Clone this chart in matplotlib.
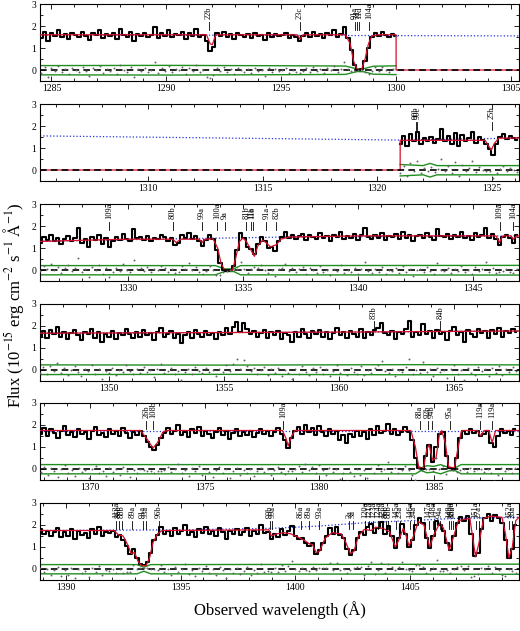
import numpy as np
import matplotlib.pyplot as plt
from matplotlib.ticker import MultipleLocator

plt.rcParams['font.family'] = ['Liberation Serif', 'DejaVu Serif']
plt.rcParams['mathtext.fontset'] = 'stix'

# --- wavelength window of each row (Angstrom) ---
xlims = [(1284.5, 1305.35), (1305.3, 1326.18), (1326.18, 1347.0),
         (1347.0, 1367.82), (1367.82, 1388.72), (1388.88, 1409.74)]

STEP = 0.15  # pixel step of the typed flux values

# --- observed flux (1e-15 erg/cm2/s/A), first pixel wavelength ---
flux1_start = 1284.55
flux1 = [1.45, 1.75, 1.3, 1.7, 1.55, 1.8, 1.5, 1.65, 1.4, 1.7,
         1.6, 1.5, 1.75, 1.55, 1.35, 1.7, 1.6, 1.8, 1.45, 1.65,
         1.55, 1.7, 1.4, 1.85, 1.6, 1.5, 1.75, 1.3, 1.65, 1.55,
         1.7, 1.5, 1.6, 1.95, 1.45, 1.7, 1.55, 1.8, 1.5, 1.65,
         1.6, 1.75, 1.4, 1.7, 1.55, 1.85, 1.5, 1.6, 1.3, 0.85,
         1.05, 1.7, 1.55, 1.75, 1.5, 1.65, 1.4, 1.7, 1.6, 1.5,
         1.65, 1.45, 1.7, 1.55, 1.6, 1.35, 1.7, 1.5, 1.65, 1.55,
         1.6, 1.7, 1.45, 1.6, 1.5, 1.3, 1.55, 1.7, 1.5, 1.75,
         1.55, 1.65, 1.45, 1.7, 1.6, 1.8, 1.5, 1.65, 1.95, 1.45,
         0.9, 0.25, 0.02, 0.05, 0.4, 1.0, 1.5, 1.7, 1.55, 1.75,
         1.6, 1.5, 1.65, 1.55]

flux2_start = 1321.0
flux2 = [1.2, 1.55, 1.1, 1.65, 1.3, 1.75, 1.2, 1.45, 1.3, 1.5,
         1.25, 1.4, 1.85, 1.3, 1.55, 1.2, 1.7, 1.1, 1.6, 1.3,
         1.45, 1.75, 1.25, 1.5, 1.35, 1.2, 0.95, 0.7, 1.2, 1.5,
         1.65, 1.4, 1.55, 1.45, 1.35]

flux3_start = 1326.2
flux3 = [1.25, 1.5, 1.35, 1.6, 1.3, 1.45, 1.2, 1.4, 1.55, 1.3,
         1.45, 1.9, 1.25, 1.4, 1.05, 1.5, 1.35, 1.6, 1.2, 1.45,
         1.05, 1.3, 1.5, 1.35, 1.65, 1.4, 1.3, 1.85, 1.45, 1.5,
         1.35, 1.55, 1.3, 1.45, 1.4, 1.6, 1.5, 1.3, 1.45, 1.15,
         1.25, 1.6, 1.45, 1.7, 1.4, 1.55, 1.3, 1.1, 1.35, 1.6,
         1.4, 0.9, 0.3, 0.02, -0.05, 0.0, 0.2, 0.9, 1.7, 1.45,
         1.05, 0.95, 0.75, 1.2, 1.5, 1.3, 1.0, 1.05, 0.85, 1.3,
         1.5, 1.75, 1.45, 1.6, 1.4, 1.55, 1.65, 1.35, 1.6, 1.5,
         1.4, 1.7, 1.45, 1.55, 1.3, 1.6, 1.5, 1.75, 1.4, 1.55,
         1.45, 1.65, 1.35, 1.6, 1.9, 1.5, 1.4, 1.6, 1.45, 1.7,
         1.35, 1.55, 1.5, 1.65, 1.4, 1.75, 1.45, 1.6, 1.3, 1.55,
         1.6, 1.45, 1.7, 1.5, 1.35, 1.85, 1.55, 1.5, 1.65, 1.4,
         1.6, 1.5, 1.75, 1.45, 1.55, 1.35, 1.7, 1.5, 1.6, 1.9,
         1.45, 1.65, 1.4, 1.15, 1.5, 1.6, 1.45, 1.25, 1.6]

flux4_start = 1347.0
flux4 = [1.5, 1.75, 1.45, 1.8, 1.6, 1.95, 1.5, 1.7, 1.4, 1.65,
         1.8, 1.55, 1.35, 1.7, 1.6, 1.85, 1.45, 1.7, 1.25, 1.6,
         1.5, 1.75, 1.4, 1.65, 1.55, 1.85, 1.6, 1.45, 1.7, 1.5,
         1.8, 1.55, 1.65, 1.35, 1.7, 1.9, 1.5, 1.6, 1.75, 1.45,
         1.6, 1.2, 1.55, 1.7, 1.45, 1.8, 1.6, 1.5, 1.75, 1.55,
         1.65, 1.4, 1.7, 1.55, 1.9, 1.6, 1.95, 2.15, 1.7, 2.1,
         1.85, 1.6, 1.75, 1.5, 1.65, 1.8, 1.45, 1.7, 1.55, 1.75,
         1.4, 1.65, 1.55, 1.25, 1.7, 1.5, 1.85, 1.6, 1.45, 1.75,
         1.6, 1.8, 1.5, 1.7, 1.4, 1.65, 1.9, 1.55, 1.7, 1.45,
         1.75, 1.6, 1.5, 1.85, 1.45, 1.7, 1.55, 1.8, 1.9, 2.1,
         1.65, 1.55, 1.75, 1.4, 1.7, 1.6, 1.85, 2.2, 1.5, 1.7,
         1.55, 2.05, 1.6, 1.75, 1.45, 1.8, 1.6, 1.7, 1.35, 1.75,
         1.95, 1.55, 1.7, 1.25, 1.8, 1.6, 1.5, 1.85, 1.65, 1.75,
         1.45, 1.8, 1.6, 1.9, 1.5, 1.75, 1.65, 1.85, 1.7]

flux5_start = 1367.85
flux5 = [1.6, 1.85, 1.5, 1.8, 1.65, 1.4, 1.75, 1.95, 1.55, 1.7,
         1.45, 1.8, 1.6, 1.7, 1.35, 1.75, 1.9, 1.55, 1.65, 1.45,
         1.8, 1.6, 1.75, 1.5, 1.85, 1.65, 1.4, 1.7, 1.55, 1.75,
         1.5, 1.25, 1.0, 0.85, 1.1, 1.4, 1.65,
         1.85, 1.6, 1.75, 2.0, 1.55, 1.7, 1.45, 1.8, 1.65, 1.9, 1.5, 1.75, 1.6,
         1.4, 1.7, 1.85, 1.55, 1.75, 1.35, 1.65, 1.8, 1.5, 1.7,
         1.55, 1.75, 1.45, 1.65, 1.8, 1.6, 1.75, 1.5, 1.7, 1.85, 1.6,
         1.3, 0.95, 1.4,
         1.75, 1.9, 1.6, 2.0, 1.7, 1.85, 1.55, 1.95, 1.7, 1.5, 1.8, 1.6,
         1.75, 1.3, 1.55, 1.2,
         1.6, 1.45, 1.75, 1.5, 1.7, 1.35, 1.8, 1.55, 1.95, 1.65,
         1.75, 2.05, 1.6, 1.8, 1.55, 1.7, 1.9,
         1.7, 1.3, 0.5, 0.05, 0.0, 0.6, 1.1, 0.3, 1.0, 1.6, 1.7, 0.6,
         0.05, 0.0, 0.5, 1.4,
         1.75, 1.6, 1.8, 1.65, 1.75, 1.5, 1.6, 1.75, 1.2, 1.0, 1.5, 1.8,
         1.65, 1.75, 1.55, 1.8]

flux6_start = 1388.9
flux6 = [1.8, 1.6, 1.75, 1.5, 1.7, 1.85, 1.45, 1.7, 1.5, 1.8,
         1.35, 1.75, 1.55, 1.65, 1.4, 1.8, 1.6, 1.9, 1.5, 1.7,
         1.65, 1.75, 1.45, 1.55, 1.3, 1.05, 0.7, 0.9, 0.5, 0.25,
         0.2, 0.3, 0.75, 1.3, 1.55, 1.9, 1.6, 1.75,
         1.5, 1.85, 1.6, 1.75, 2.0, 1.55, 1.7, 1.45, 1.8, 1.65,
         1.9, 1.6, 1.75, 1.5, 1.85, 1.7, 1.35, 1.75, 1.6, 1.8,
         1.55, 1.7, 1.85, 1.5, 1.75, 1.6, 2.0, 1.65,
         1.7, 1.35, 1.6, 1.45, 1.8, 1.55, 1.75, 1.95, 1.5, 1.35,
         1.4, 1.2, 1.05, 1.2, 0.7, 0.85, 1.2, 1.5, 1.85, 1.6,
         1.9, 1.55, 1.4, 0.9, 0.65, 0.85, 1.4, 1.7, 1.55, 1.9,
         2.05, 1.65, 1.85, 2.15, 1.6, 1.95, 1.5, 0.95, 1.4, 2.05,
         1.6, 1.0, 1.3, 2.0, 2.3, 2.1, 1.4, 0.95, 1.5, 2.2,
         2.0, 1.75, 1.2, 0.85, 1.5, 2.1, 2.35, 2.2, 2.4, 1.6,
         0.6, 0.75, 1.8, 2.3, 2.5, 2.2, 2.45, 2.3, 2.1, 1.3,
         0.5, 0.9, 2.0]

# --- absorption model (red), (wavelength, flux) knots ---
model1 = [(1284.5, 1.6), (1291.75, 1.6), (1291.9, 1.2), (1292.0, 1.15), (1292.15, 1.6),
          (1295.7, 1.6), (1295.82, 1.4), (1295.95, 1.6), (1297.8, 1.6), (1298.0, 1.2),
          (1298.15, 0.4), (1298.3, 0.03), (1298.5, 0.03), (1298.65, 0.5), (1298.8, 1.2),
          (1298.95, 1.55), (1299.2, 1.6), (1300.0, 1.6), (1300.0, 0.0), (1305.4, 0.0)]
model2 = [(1305.3, 0.0), (1321.0, 0.0), (1321.0, 1.35), (1324.7, 1.35), (1324.85, 1.1),
          (1324.97, 0.9), (1325.1, 1.2), (1325.3, 1.45), (1326.2, 1.45)]
model3 = [(1326.2, 1.3), (1328.0, 1.35), (1330.0, 1.4), (1331.95, 1.4), (1332.1, 1.25),
          (1332.3, 1.4), (1333.1, 1.4), (1333.22, 1.25), (1333.35, 1.4), (1333.7, 1.42),
          (1333.9, 1.0), (1334.05, 0.3), (1334.2, 0.0), (1334.55, 0.0), (1334.7, 0.6),
          (1334.85, 1.3), (1335.0, 1.45), (1335.15, 1.3), (1335.3, 1.0), (1335.5, 0.62),
          (1335.65, 1.1), (1335.85, 1.35), (1336.0, 1.25), (1336.2, 1.05), (1336.45, 1.15),
          (1336.65, 1.4), (1337.0, 1.5), (1340.0, 1.55), (1346.0, 1.55), (1346.15, 1.25),
          (1346.3, 1.55), (1346.65, 1.55), (1346.75, 1.4), (1346.9, 1.55), (1347.0, 1.55)]
model4 = [(1347.0, 1.65), (1355.0, 1.68), (1360.0, 1.7), (1367.82, 1.75)]
model5 = [(1367.82, 1.75), (1372.2, 1.75), (1372.5, 1.35), (1372.75, 0.95), (1372.95, 1.2),
          (1373.2, 1.7), (1373.4, 1.75), (1378.4, 1.75), (1378.55, 1.4), (1378.65, 1.05),
          (1378.8, 1.5), (1378.95, 1.75), (1384.0, 1.75), (1384.2, 1.0), (1384.35, 0.05),
          (1384.55, 0.05), (1384.7, 0.9), (1384.8, 1.1), (1384.95, 0.4), (1385.1, 0.5),
          (1385.25, 1.6), (1385.35, 1.75), (1385.5, 1.2), (1385.65, 0.1), (1385.9, 0.05),
          (1386.05, 0.9), (1386.2, 1.7), (1386.3, 1.75), (1386.9, 1.75), (1387.05, 1.5),
          (1387.2, 1.75), (1387.4, 1.75), (1387.55, 1.2), (1387.7, 1.75), (1388.72, 1.75)]
model6 = [(1388.88, 1.75), (1392.1, 1.75), (1392.3, 1.55), (1392.5, 1.5), (1392.7, 1.1),
          (1392.85, 0.7), (1393.0, 0.75), (1393.15, 0.35), (1393.3, 0.15), (1393.5, 0.15),
          (1393.65, 0.5), (1393.8, 1.2), (1394.0, 1.6), (1394.2, 1.75), (1398.85, 1.78),
          (1398.95, 1.5), (1399.2, 1.6), (1399.5, 1.65), (1399.8, 1.6), (1400.1, 1.45),
          (1400.4, 1.3), (1400.6, 1.15), (1400.75, 1.1), (1400.9, 0.75), (1401.05, 0.8),
          (1401.3, 1.4), (1401.6, 1.65), (1402.0, 1.6), (1402.2, 1.2), (1402.4, 0.7),
          (1402.55, 0.8), (1402.75, 1.5), (1403.0, 1.8), (1403.3, 1.75), (1403.5, 1.9),
          (1403.8, 1.85), (1404.1, 1.7), (1404.35, 1.0), (1404.5, 1.3), (1404.7, 1.85),
          (1404.8, 1.6), (1404.95, 1.05), (1405.15, 1.5), (1405.35, 2.15), (1405.6, 2.0),
          (1405.85, 1.0), (1406.05, 1.6), (1406.3, 2.1), (1406.45, 1.85), (1406.7, 0.85),
          (1406.9, 1.5), (1407.1, 2.2), (1407.6, 2.3), (1407.7, 1.6), (1407.85, 0.55),
          (1408.0, 1.2), (1408.2, 2.3), (1408.5, 2.4), (1409.0, 2.35), (1409.15, 1.6),
          (1409.3, 0.5), (1409.45, 1.0), (1409.6, 2.2), (1409.74, 2.35)]

# --- continuum (blue dotted) knots ---
cont1 = [(1284.5, 1.6), (1305.35, 1.55)]
cont2 = [(1305.3, 1.55), (1321.0, 1.36), (1326.18, 1.45)]
cont3 = [(1326.18, 1.3), (1330.0, 1.38), (1334.0, 1.45), (1337.0, 1.5), (1347.0, 1.55)]
cont4 = [(1347.0, 1.65), (1355.0, 1.68), (1360.0, 1.7), (1367.82, 1.75)]
cont5 = [(1367.82, 1.75), (1388.72, 1.75)]
cont6 = [(1388.88, 1.75), (1395.0, 1.78), (1399.0, 1.85), (1401.0, 1.95),
         (1403.0, 2.1), (1405.0, 2.2), (1407.0, 2.3), (1409.74, 2.35)]

# --- flux error (green, +/-) knots ---
err1 = [(1284.5, 0.2), (1290.0, 0.21), (1296.0, 0.19), (1297.8, 0.18), (1298.3, 0.05),
        (1298.6, 0.06), (1299.0, 0.17), (1300.0, 0.19)]
err2 = [(1321.0, 0.25), (1322.0, 0.2), (1322.3, 0.3), (1322.6, 0.2), (1326.18, 0.2)]
err3 = [(1326.18, 0.2), (1333.8, 0.2), (1334.2, 0.05), (1334.6, 0.05), (1334.9, 0.2),
        (1347.0, 0.21)]
err4 = [(1347.0, 0.21), (1355.0, 0.2), (1363.0, 0.22), (1367.82, 0.21)]
err5 = [(1367.82, 0.2), (1384.2, 0.2), (1384.45, 0.05), (1384.7, 0.15), (1385.0, 0.12),
        (1385.3, 0.2), (1385.7, 0.05), (1385.95, 0.06), (1386.2, 0.2), (1388.72, 0.2)]
err6 = [(1388.88, 0.2), (1393.1, 0.2), (1393.4, 0.08), (1393.7, 0.2), (1409.74, 0.22)]

# --- component identifications ---
lab1 = [(1291.85, '22b'), (1295.8, '23c'), (1298.2, '91a'), (1298.3, '7d'),
        (1298.4, '11d'), (1298.84, '104a')]
lab2 = [(1321.7, '90b'), (1321.75, '90c'), (1325.0, '25b')]
lab3 = [(1329.2, '109a'), (1331.95, '80b'), (1333.2, '99a'), (1333.87, '100a'),
        (1334.22, '9a'), (1335.15, '81b'), (1335.35, '11a'), (1335.42, '11b'),
        (1336.02, '91a'), (1336.45, '82b'), (1346.16, '109a'), (1346.74, '104a')]
lab4 = [(1361.5, '83b'), (1364.4, '84b')]
lab5 = [(1372.45, '26b'), (1372.75, '108b'), (1378.42, '109a'), (1384.39, '88a'),
        (1384.75, '92b'), (1384.92, '94b'), (1385.7, '95a'), (1387.04, '119a'),
        (1387.55, '119a')]
lab6 = [(1392.2, '113a'), (1392.3, '86b'), (1392.45, '88b'), (1392.9, '89a'),
        (1393.35, '91a'), (1393.5, '93a'), (1394.05, '96b'), (1398.9, '99b'),
        (1399.0, '99a'), (1400.25, '86a'), (1400.6, '89a'), (1401.05, '93a'),
        (1402.35, '2a'), (1402.5, '3a'), (1403.05, '120a'), (1403.2, '121a'),
        (1403.4, '123a'), (1403.6, '124a'), (1403.8, '125a'), (1403.95, '86b'),
        (1404.05, '88b'), (1404.4, '145a'), (1404.55, '23a'), (1405.0, '146a'),
        (1405.15, '24a'), (1405.8, '147a'), (1406.0, '148a'), (1406.3, '94a'),
        (1406.7, '149a'), (1406.8, '150a'), (1406.85, '88a'), (1407.85, '151a'),
        (1408.0, '27a'), (1409.3, '152a'), (1409.45, '28a')]

panels = [
    (xlims[0], flux1_start, flux1, model1, cont1, err1, lab1),
    (xlims[1], flux2_start, flux2, model2, cont2, err2, lab2),
    (xlims[2], flux3_start, flux3, model3, cont3, err3, lab3),
    (xlims[3], flux4_start, flux4, model4, cont4, err4, lab4),
    (xlims[4], flux5_start, flux5, model5, cont5, err5, lab5),
    (xlims[5], flux6_start, flux6, model6, cont6, err6, lab6),
]

W, H = 520, 631
fig = plt.figure(figsize=(W / 100, H / 100), dpi=100)
tops = [4, 104, 204, 303.5, 403, 503]
ax_h = 77

for top, (xl, start, flux, model, cont, err, labs) in zip(tops, panels):
    ax = fig.add_axes([40 / W, 1 - (top + ax_h) / H, 479 / W, ax_h / H])
    w = start + STEP * np.arange(len(flux))
    f = np.array(flux)
    mw, mf = np.array(model).T
    cw, cf = np.array(cont).T
    ew, ef = np.array(err).T

    ax.plot(cw, cf, ':', color='#2233dd', lw=0.9, zorder=1)
    ax.plot(ew, ef, color='#1f8f1f', lw=1.0, zorder=2)
    ax.plot(ew, -ef - 0.02, color='#1f8f1f', lw=1.0, zorder=2)
    ax.plot(w, f, drawstyle='steps-mid', color='k', lw=1.5, zorder=3)
    ax.plot(mw, mf, color='#d4102c', lw=0.9, zorder=4)
    ax.axhline(0, color='k', ls=(0, (4, 2.5)), lw=1.2, zorder=5)
    # residuals (data - model)
    resid = f - np.interp(w, mw, mf)
    ax.plot(w, resid, '.', ms=2.8, mew=0, color='0.4', zorder=6)

    for lw_, txt in labs:
        ax.plot([lw_, lw_], [1.8, 2.2], color='k', lw=0.6, zorder=4)
        ax.text(lw_, 2.3, txt, rotation=90, ha='center', va='bottom', fontsize=6)

    ax.set_xlim(xl)
    ax.set_ylim(-0.5, 3)
    ax.xaxis.set_major_locator(MultipleLocator(5))
    ax.xaxis.set_minor_locator(MultipleLocator(1))
    ax.set_yticks([0, 1, 2, 3])
    ax.yaxis.set_minor_locator(MultipleLocator(0.5))
    ax.tick_params(which='both', direction='in', top=True, right=True, width=0.6)
    ax.tick_params(which='major', length=3.5, labelsize=7, pad=2.5)
    ax.tick_params(which='minor', length=2)
    for s in ax.spines.values():
        s.set_linewidth(0.8)

fig.text(14 / W, 1 - 305 / H,
         r'Flux (10$^{-15}$ erg cm$^{-2}$ s$^{-1}$ $\mathrm{\AA}^{-1}$)',
         rotation=90, ha='center', va='center', fontsize=12)
fig.text(280 / W, 1 - 610 / H, 'Observed wavelength (Å)',
         ha='center', va='center', fontsize=12)

fig.savefig('out.png', dpi=100)
